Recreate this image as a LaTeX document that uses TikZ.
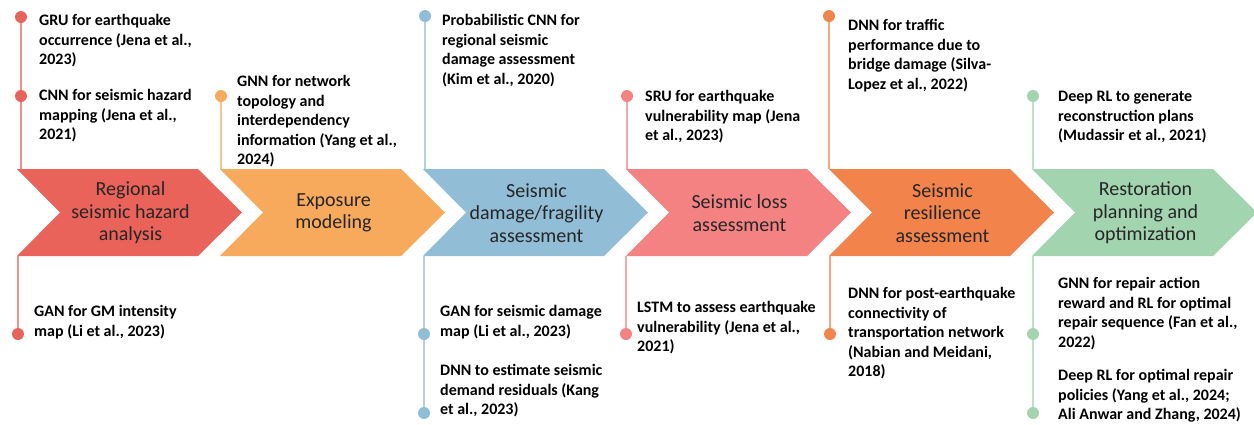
\documentclass[tikz,border=0pt]{standalone}
\usepackage{fontspec}
\setmainfont{Carlito}
\definecolor{cA}{HTML}{E9635A}
\definecolor{cB}{HTML}{F7AA5B}
\definecolor{cC}{HTML}{91BDD7}
\definecolor{cD}{HTML}{F48282}
\definecolor{cE}{HTML}{F2844B}
\definecolor{cF}{HTML}{A1D4AF}
\newcommand{\mychev}[3]{%
  \fill[#2] (#1,169) -- ++(181,0) -- ++(44,43.5) -- ++(-44,43.5) -- ++(-181,0) -- ++(43,-43.5) -- cycle;
  \coordinate (#3t) at (#1,169);
  \coordinate (#3b) at (#1,256);
}
\begin{document}
\begin{tikzpicture}[x=1pt,y=-1pt,
  txt/.style={anchor=north west, inner sep=0pt, align=left, font=\fontsize{16}{19.5}\selectfont\bfseries, text=black},
  lab/.style={align=center, inner sep=0pt, font=\fontsize{20}{22.5}\selectfont, text=black!85},
  dot/.style={circle, fill=#1, minimum size=12pt, inner sep=0pt},
  stem/.style={#1!70!white, line width=1.3pt}]
\useasboundingbox (0,0) rectangle (1254,424);
% chevrons
\mychev{17}{cA}{k1}
\mychev{220}{cB}{k2}
\mychev{423}{cC}{k3}
\mychev{626}{cD}{k4}
\mychev{829}{cE}{k5}
\mychev{1032}{cF}{k6}
\node[lab] (l1) at (130.5,213) {Regional\\seismic hazard\\analysis};
\node[lab] (l2) at (333.5,213) {Exposure\\modeling};
\node[lab] (l3) at (536.5,213) {Seismic\\damage/fragility\\assessment};
\node[lab] (l4) at (739.5,213) {Seismic loss\\assessment};
\node[lab] (l5) at (942.5,213) {Seismic\\resilience\\assessment};
\node[lab] (l6) at (1145.5,213) {Restoration\\planning and\\optimization};
% stem anchors on chevrons
\coordinate (s1t) at (21,169);   \coordinate (s1b) at (18,256);
\coordinate (s2t) at (221,169);
\coordinate (s3t) at (425,169);  \coordinate (s3b) at (424,256);
\coordinate (s4t) at (627,169);  \coordinate (s4b) at (626,256);
\coordinate (s5t) at (829,169);  \coordinate (s5b) at (830,256);
\coordinate (s6t) at (1033,169); \coordinate (s6b) at (1033,256);
% dots
\node[dot=cA] (d1a) at (21,17) {};
\node[dot=cA] (d1b) at (21,96) {};
\node[dot=cA] (d1c) at (18,334) {};
\node[dot=cB] (d2a) at (221,96) {};
\node[dot=cC] (d3a) at (425,16) {};
\node[dot=cC] (d3b) at (424,334) {};
\node[dot=cC] (d3c) at (424,413) {};
\node[dot=cD] (d4a) at (627,96) {};
\node[dot=cD] (d4b) at (626,334) {};
\node[dot=cE] (d5a) at (829,16) {};
\node[dot=cE] (d5b) at (830,334) {};
\node[dot=cF] (d6a) at (1033,96) {};
\node[dot=cF] (d6b) at (1033,334) {};
\node[dot=cF] (d6c) at (1033,413) {};
% stems
\draw[stem=cA] (s1t) -- (d1b);
\draw[stem=cA] (d1b) -- (d1a);
\draw[stem=cA] (s1b) -- (d1c);
\draw[stem=cB] (s2t) -- (d2a);
\draw[stem=cC] (s3t) -- (d3a);
\draw[stem=cC] (s3b) -- (d3b);
\draw[stem=cC] (d3b) -- (d3c);
\draw[stem=cD] (s4t) -- (d4a);
\draw[stem=cD] (s4b) -- (d4b);
\draw[stem=cE] (s5t) -- (d5a);
\draw[stem=cE] (s5b) -- (d5b);
\draw[stem=cF] (s6t) -- (d6a);
\draw[stem=cF] (s6b) -- (d6b);
\draw[stem=cF] (d6b) -- (d6c);
% texts
\node[txt] (t1a) at (39,11.8) {\strut GRU for earthquake\\occurrence (Jena et al.,\\2023)};
\node[txt] (t1b) at (39,86.8) {\strut CNN for seismic hazard\\mapping (Jena et al.,\\2021)};
\node[txt] (t2) at (237,72.8) {\strut GNN for network\\topology and\\interdependency\\information (Yang et al.,\\2024)};
\node[txt] (t3) at (442,11.8) {\strut Probabilistic CNN for\\regional seismic\\damage assessment\\(Kim et al., 2020)};
\node[txt] (t4) at (645,87.8) {\strut SRU for earthquake\\vulnerability map (Jena\\et al., 2023)};
\node[txt] (t5) at (848,16.8) {\strut DNN for traffic\\performance due to\\bridge damage (Silva-\\Lopez et al., 2022)};
\node[txt] (t6) at (1058,87.8) {\strut Deep RL to generate\\reconstruction plans\\(Mudassir et al., 2021)};
\node[txt] (b1) at (34,302.8) {\strut GAN for GM intensity\\map (Li et al., 2023)};
\node[txt] (b3a) at (440,302.8) {\strut GAN for seismic damage\\map (Li et al., 2023)};
\node[txt] (b3b) at (440,361.8) {\strut DNN to estimate seismic\\demand residuals (Kang\\et al., 2023)};
\node[txt] (b4) at (637,298.8) {\strut LSTM to assess earthquake\\vulnerability (Jena et al.,\\2021)};
\node[txt] (b5) at (848,284.8) {\strut DNN for post-earthquake\\connectivity of\\transportation network\\(Nabian and Meidani,\\2018)};
\node[txt] (b6a) at (1058,274.8) {\strut GNN for repair action\\reward and RL for optimal\\repair sequence (Fan et al.,\\2022)};
\node[txt] (b6b) at (1058,366.8) {\strut Deep RL for optimal repair\\policies (Yang et al., 2024;\\Ali Anwar and Zhang, 2024)};
\end{tikzpicture}
\end{document}
